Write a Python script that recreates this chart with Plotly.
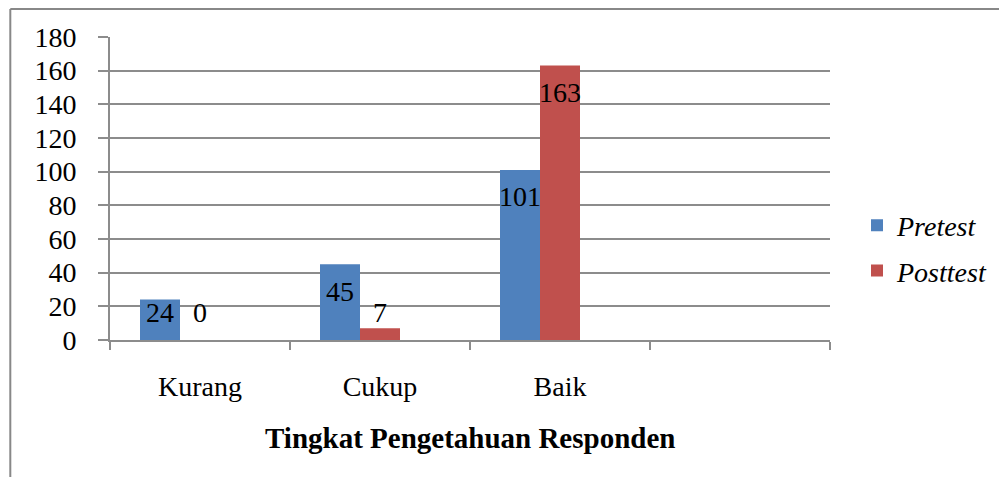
import plotly.graph_objects as go

categories = ["Kurang", "Cukup", "Baik", " "]
pretest = [24, 45, 101, None]
posttest = [0, 7, 163, None]
y_ticks = [0, 20, 40, 60, 80, 100, 120, 140, 160, 180]

BLUE = "#4F81BD"
RED = "#C0504D"
GRID = "#8C8C8C"
FONT = "Liberation Serif"
FS = 28

# page body has an 8px default margin; work in figure coordinates
OFF = 8
W, H = 1007 - OFF, 477 - OFF
L, T = 110 - OFF, 37 - OFF
PW, PH = 720, 303
R, B = W - L - PW, H - T - PH

SLOT = 180.0          # px per category
BAR_W = 40 / SLOT     # bar width in category units
# group laid out as if for three series (third one empty), centred on slot
OFFSETS = [-1.5 * BAR_W, -0.5 * BAR_W]


def py(ref_y):
    """reference pixel y -> paper y"""
    return (T + PH - (ref_y - OFF)) / PH


def px(ref_x):
    return ((ref_x - OFF) - L) / PW


fig = go.Figure()
fig.add_trace(go.Bar(x=categories, y=pretest, name="<i>Pretest</i>", width=BAR_W, offset=OFFSETS[0],
                     marker=dict(color=BLUE, line=dict(width=0)), legendgroup="a"))
fig.add_trace(go.Bar(x=categories, y=posttest, name="<i>Posttest</i>", width=BAR_W, offset=OFFSETS[1],
                     marker=dict(color=RED, line=dict(width=0)), legendgroup="b"))

annotations = []
for vals, off in ((pretest, OFFSETS[0]), (posttest, OFFSETS[1])):
    for c, v in zip(categories, vals):
        if v is None:
            continue
        annotations.append(dict(x=c, y=max(v - 16, 16.5), xref="x", yref="y", text=str(v),
                                showarrow=False, xshift=(off + BAR_W / 2) * SLOT,
                                font=dict(family=FONT, size=FS, color="black"),
                                xanchor="center", yanchor="middle"))

annotations.append(dict(x=0.5, y=py(438), xref="paper", yref="paper",
                        text="<b>Tingkat Pengetahuan Responden</b>", showarrow=False,
                        font=dict(family=FONT, size=FS + 1, color="black"),
                        xanchor="center", yanchor="middle"))

top_y = (T + PH - 1) / PH
left_x = (2.3 - L) / PW
shapes = [
    dict(type="line", xref="paper", yref="paper", x0=left_x, x1=(W - L) / PW,
         y0=top_y, y1=top_y, line=dict(color="#888888", width=2)),
    dict(type="line", xref="paper", yref="paper", x0=left_x, x1=left_x,
         y0=top_y, y1=-B / PH, line=dict(color="#888888", width=2)),
]

fig.update_layout(
    width=W, height=H,
    margin=dict(l=L, r=R, t=T, b=B, autoexpand=False),
    paper_bgcolor="white", plot_bgcolor="white",
    barmode="overlay",
    font=dict(family=FONT, size=FS, color="black"),
    showlegend=True,
    legend=dict(x=px(857), y=py(248), xanchor="left", yanchor="middle",
                font=dict(family=FONT, size=FS, color="black"), tracegroupgap=6,
                bgcolor="rgba(0,0,0,0)", itemwidth=30),
    annotations=annotations,
    shapes=shapes,
)
fig.update_xaxes(type="category", categoryorder="array", categoryarray=categories,
                 range=[-0.5, 3.5], showline=True, linecolor=GRID, linewidth=2,
                 ticks="outside", tickson="boundaries", ticklen=8, tickcolor=GRID, tickwidth=2,
                 showgrid=False, ticklabelstandoff=20,
                 tickfont=dict(family=FONT, size=FS, color="black"), automargin=False)
fig.update_yaxes(range=[0, 180], tickvals=y_ticks, showline=True, linecolor=GRID, linewidth=2,
                 ticks="outside", ticklen=10, tickcolor=GRID, tickwidth=2, showgrid=True,
                 gridcolor=GRID, gridwidth=2, zeroline=False, ticklabelstandoff=16,
                 tickfont=dict(family=FONT, size=FS, color="black"), automargin=False)

fig.write_html("out.html")
